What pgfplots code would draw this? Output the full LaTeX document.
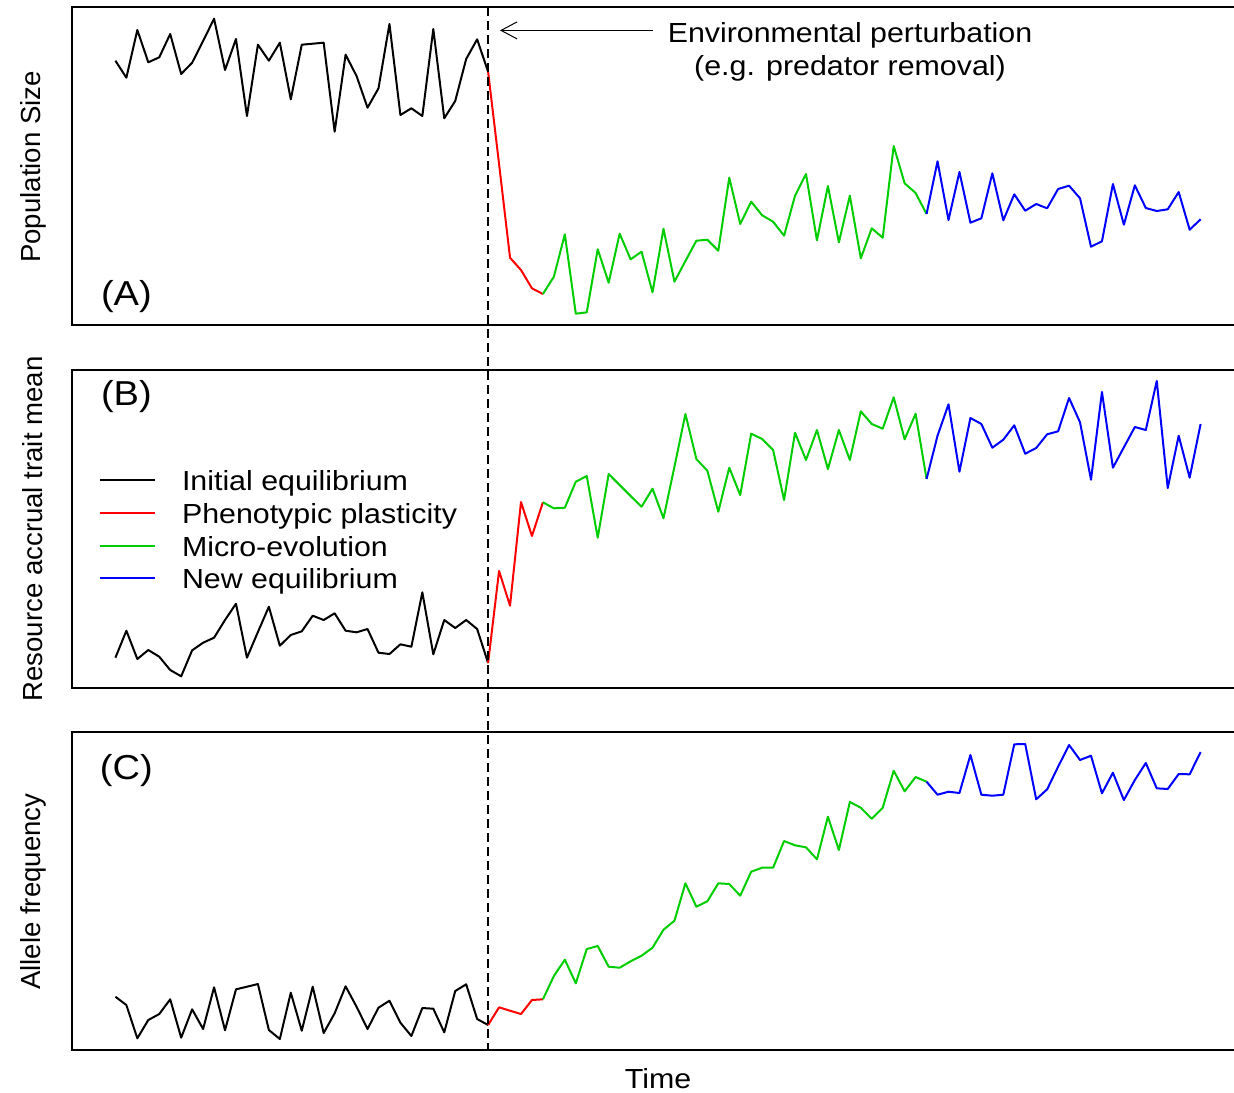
\documentclass[border=0pt]{standalone}
\usepackage{fontspec}
\setmainfont{Liberation Sans}[FakeStretch=1.1]
\newfontfamily\plainfont{Liberation Sans}
\usepackage{pgfplots}
\usepackage{pgfplotstable}
\pgfplotsset{compat=1.18}
\usetikzlibrary{arrows.meta}
\definecolor{Rgreen}{RGB}{0,205,0}
\definecolor{Rblue}{RGB}{0,0,255}
\definecolor{Rred}{RGB}{255,0,0}

% values (vertical position, larger = lower)
\pgfplotstableread{
x A B C
1 60.7 657.7 996.7
2 77.7 630.7 1005
3 30 659 1038.3
4 62.3 650 1020
5 57.3 656.7 1014
6 34 670 999.3
7 74 676.3 1037.7
8 62.7 650.3 1009.3
9 41 642.7 1029
10 18.7 637.7 987.3
11 70 620 1030.3
12 39 603.7 989.3
13 116 657.7 986.7
14 44.7 632 984
15 60.7 606.7 1030
16 42.7 645.7 1039
17 99.3 635 992.7
18 44.7 631.3 1030.7
19 43.7 615.7 986.7
20 42.7 620 1033
21 131.7 613.3 1013.3
22 54.7 630.7 986.3
23 76 632.3 1006.7
24 107.7 629 1029
25 88.3 652.7 1007.7
26 24 654 1000.7
27 115 644.3 1022.7
28 108.3 646.7 1036
29 116 592.3 1008
30 29 654.3 1008.7
31 118.3 620 1032.3
32 101 628 991
33 59 620 984.3
34 39.3 629 1019
35 71.7 663 1025
36 164 571 1007.3
37 257.7 605.7 1010.7
38 270 502 1014
39 288.3 536 1000
40 294 502.3 999.3
41 276.7 508.3 976
42 234.3 507.7 959.7
43 313.7 481.7 983.3
44 312.3 476 949
45 249.3 537.7 946
46 282.7 474 966.7
47 233.7 485 967.7
48 259.3 496 961.3
49 251.7 506.7 955.7
50 292.3 488.7 947.7
51 228.7 518.3 929.7
52 281.7 466.7 920.7
53 261 414 883.3
54 240.7 459 906.7
55 239.7 470.7 901.3
56 250.7 511.7 883.3
57 177.7 467.7 884
58 224 495 895.7
59 201.7 433.7 871.7
60 215.3 439 867.7
61 221.7 450 867.7
62 235.7 500 841
63 195.7 432.7 845.3
64 174 460 847.3
65 240.3 430 859.3
66 186 469 816.7
67 242.3 430 850
68 195.7 460 802
69 258.3 411.3 807.7
70 228.3 424 818.7
71 237.7 428.7 807.7
72 146 397.3 770.7
73 183.3 439.3 791.3
74 193 413.7 777
75 214 479 781.7
76 161.3 435.7 794.7
77 220 404.3 791.7
78 172 471.7 793
79 222.7 418 755
80 218.3 424 794.7
81 173.3 447.7 795.7
82 220.3 439.7 794.7
83 194.3 425.3 744.3
84 210.7 453.7 744
85 204 448 799.3
86 208.3 434.3 789.3
87 189 431.3 766.7
88 185.7 398 745
89 198.3 422.3 760
90 246.7 479.7 755.7
91 241.3 392 793.3
92 184 467.7 772.7
93 224.7 447.3 800
94 185.3 427 780
95 208 430 763
96 211 381 788.3
97 209.3 488 789
98 192 435.7 774
99 229.7 477.7 774.3
100 219.3 424 752
}\data

\pgfplotsset{
  panel/.style={
    scale only axis, width=586pt, height=159pt,
    xmin=-2.96, xmax=103.96,
    xtick=\empty, ytick=\empty,
    axis line style={line width=0.75pt},
    every axis plot/.append style={line width=1pt, line join=round},
  },
}

\begin{document}
\begin{tikzpicture}
% Panel A
\begin{axis}[panel, at={(36pt,-162.5pt)}, anchor=south west, ymin=-325, ymax=-7]
\addplot[black, restrict x to domain=1:35] table[x=x, y expr=-\thisrow{A}] {\data};
\addplot[Rred, restrict x to domain=35:40] table[x=x, y expr=-\thisrow{A}] {\data};
\addplot[Rgreen, restrict x to domain=40:75] table[x=x, y expr=-\thisrow{A}] {\data};
\addplot[Rblue, restrict x to domain=75:100] table[x=x, y expr=-\thisrow{A}] {\data};
\end{axis}
% Panel B
\begin{axis}[panel, at={(36pt,-344pt)}, anchor=south west, ymin=-688, ymax=-370]
\addplot[black, restrict x to domain=1:35] table[x=x, y expr=-\thisrow{B}] {\data};
\addplot[Rred, restrict x to domain=35:40] table[x=x, y expr=-\thisrow{B}] {\data};
\addplot[Rgreen, restrict x to domain=40:75] table[x=x, y expr=-\thisrow{B}] {\data};
\addplot[Rblue, restrict x to domain=75:100] table[x=x, y expr=-\thisrow{B}] {\data};
\end{axis}
% Panel C
\begin{axis}[panel, at={(36pt,-525pt)}, anchor=south west, ymin=-1050, ymax=-732, clip=false]
\addplot[black, restrict x to domain=1:35] table[x=x, y expr=-\thisrow{C}] {\data};
\addplot[Rred, restrict x to domain=35:40] table[x=x, y expr=-\thisrow{C}] {\data};
\addplot[Rgreen, restrict x to domain=40:75] table[x=x, y expr=-\thisrow{C}] {\data};
\addplot[Rblue, restrict x to domain=75:100] table[x=x, y expr=-\thisrow{C}] {\data};
\draw[black, line width=0.75pt, dash pattern=on 4.5pt off 2.5pt] (axis cs:35,-7) -- (axis cs:35,-1050);
\end{axis}

% annotation
\draw[black, line width=0.5pt, -{Straight Barb[length=8pt, width=8.5pt]}] (326.5pt,-15.2pt) -- (250pt,-15.2pt);
\node[anchor=base, inner sep=0pt, font=\fontsize{13.8}{16.5}\selectfont] at (425pt,-21pt) {Environmental perturbation};
\node[anchor=base, inner sep=0pt, font=\fontsize{13.8}{16.5}\selectfont] at (425pt,-37.5pt) {(e.g. predator removal)};

% panel labels
\node[inner sep=0pt, font=\fontsize{17.3}{20}\selectfont] at (63.2pt,-148.2pt) {(A)};
\node[inner sep=0pt, font=\fontsize{17.3}{20}\selectfont] at (63.2pt,-198.5pt) {(B)};
\node[inner sep=0pt, font=\fontsize{17.3}{20}\selectfont] at (63.2pt,-385.5pt) {(C)};

% legend
\draw[black, line width=0.9pt] (50pt,-240pt) -- (77.5pt,-240pt);
\draw[Rred, line width=0.9pt] (50pt,-256.35pt) -- (77.5pt,-256.35pt);
\draw[Rgreen, line width=0.9pt] (50pt,-273pt) -- (77.5pt,-273pt);
\draw[Rblue, line width=0.9pt] (50pt,-289pt) -- (77.5pt,-289pt);
\node[anchor=base west, inner sep=0pt, font=\fontsize{13.8}{16.5}\selectfont] at (90.8pt,-245.3pt) {Initial equilibrium};
\node[anchor=base west, inner sep=0pt, font=\fontsize{13.8}{16.5}\selectfont] at (90.8pt,-261.65pt) {Phenotypic plasticity};
\node[anchor=base west, inner sep=0pt, font=\fontsize{13.8}{16.5}\selectfont] at (90.8pt,-278pt) {Micro-evolution};
\node[anchor=base west, inner sep=0pt, font=\fontsize{13.8}{16.5}\selectfont] at (90.8pt,-294.35pt) {New equilibrium};

% axis labels
\node[rotate=90, inner sep=0pt, font=\plainfont\fontsize{13.8}{16.5}\selectfont] at (16.5pt,-83.5pt) {Population Size};
\node[rotate=90, inner sep=0pt, font=\plainfont\fontsize{13.8}{16.5}\selectfont] at (16.5pt,-264.5pt) {Resource accrual trait mean};
\node[rotate=90, inner sep=0pt, font=\plainfont\fontsize{13.8}{16.5}\selectfont] at (16.5pt,-445.8pt) {Allele frequency};
\node[anchor=base, inner sep=0pt, font=\fontsize{13.8}{16.5}\selectfont] at (329pt,-544pt) {Time};

\pgfresetboundingbox
\useasboundingbox (0pt,0pt) rectangle (617pt,-546pt);
\end{tikzpicture}
\end{document}
